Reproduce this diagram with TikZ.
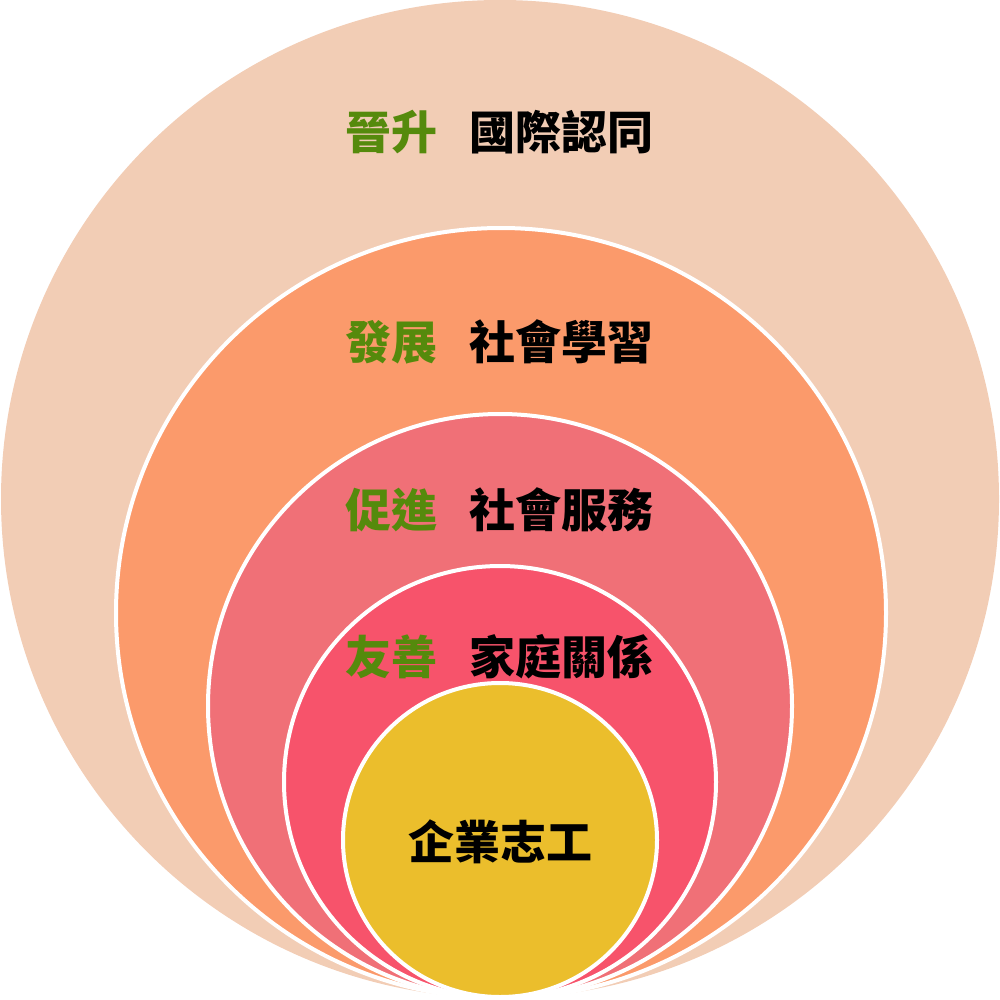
\documentclass[tikz,border=0pt]{standalone}
\usepackage{fontspec}
\newfontfamily\cjk{Noto Sans CJK TC}[BoldFont={Noto Sans CJK TC Black}]
\definecolor{c1}{HTML}{F2CDB5}
\definecolor{c2}{HTML}{FB9A6B}
\definecolor{c3}{HTML}{F07077}
\definecolor{c4}{HTML}{F7536B}
\definecolor{c5}{HTML}{EBBE2C}
\definecolor{grn}{HTML}{558A0C}
\begin{document}
\begin{tikzpicture}[x=1pt,y=-1pt,
  ring/.style={draw=white,line width=4pt},
  lbl/.style={font=\cjk\bfseries\fontsize{46}{46}\selectfont,inner sep=0pt},
  glbl/.style={lbl,text=grn},
  blbl/.style={lbl,text=black}]
\useasboundingbox (0,0) rectangle (1000,1000);
\fill[c1] (500,499) circle (499) coordinate (k1);
\filldraw[ring,fill=c2] (501,613) circle (385) coordinate (k2);
\filldraw[ring,fill=c3] (500,706) circle (292) coordinate (k3);
\filldraw[ring,fill=c4] (500,782) circle (216) coordinate (k4);
\filldraw[ring,fill=c5] (500,840) circle (157) coordinate (k5);
\node[glbl] (g1) at (391,132) {晉升};
\node[blbl] (b1) at (561,132) {國際認同};
\node[glbl] (g2) at (391,342) {發展};
\node[blbl] (b2) at (561,342) {社會學習};
\node[glbl] (g3) at (391,510) {促進};
\node[blbl] (b3) at (561,510) {社會服務};
\node[glbl] (g4) at (391,657) {友善};
\node[blbl] (b4) at (561,657) {家庭關係};
\node[blbl] (c) at (500,842) {企業志工};
\end{tikzpicture}
\end{document}
